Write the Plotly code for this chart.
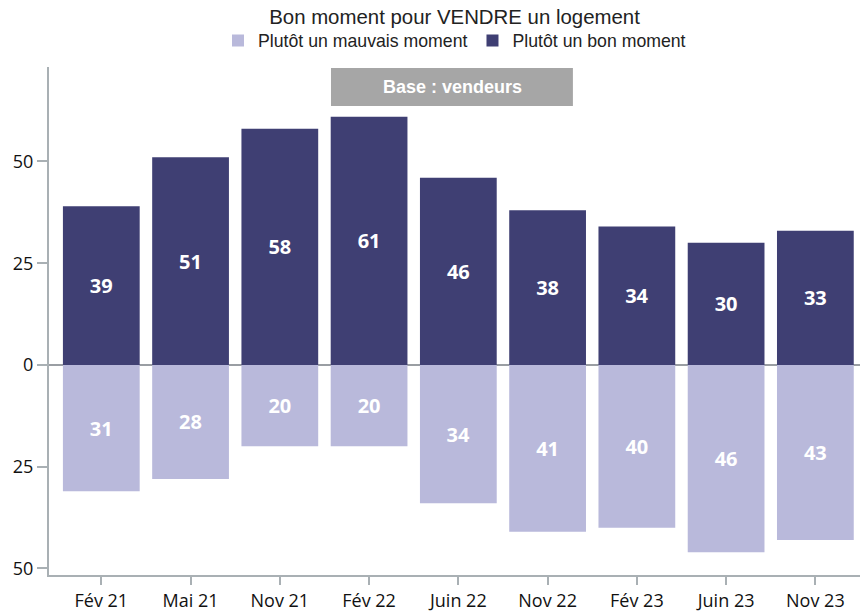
import plotly.graph_objects as go

categories = ["Fév 21", "Mai 21", "Nov 21", "Fév 22", "Juin 22", "Nov 22", "Fév 23", "Juin 23", "Nov 23"]
bon_moment = [39, 51, 58, 61, 46, 38, 34, 30, 33]
mauvais_moment = [31, 28, 20, 20, 34, 41, 40, 46, 43]
y_tickvals = [-50, -25, 0, 25, 50]
y_ticktext = ["50", "25", "0", "25", "50"]

DARK = "#3f3f73"
LIGHT = "#b9b9db"
AXIS = "#a9b0b4"
LABEL_FONT = dict(family="Open Sans, Noto Sans, sans-serif", size=20, color="white", weight="bold")

fig = go.Figure()
fig.add_trace(go.Bar(
    x=categories, y=[-v for v in mauvais_moment], name="Plutôt un mauvais moment",
    marker=dict(color=LIGHT, line=dict(width=0)),
    text=[str(v) for v in mauvais_moment], textposition="inside",
    insidetextanchor="middle", textfont=LABEL_FONT, textangle=0,
    hoverinfo="skip",
))
fig.add_trace(go.Bar(
    x=categories, y=bon_moment, name="Plutôt un bon moment",
    marker=dict(color=DARK, line=dict(width=0)),
    text=[str(v) for v in bon_moment], textposition="inside",
    insidetextanchor="middle", textfont=LABEL_FONT, textangle=0,
    hoverinfo="skip",
))

fig.update_layout(
    width=860, height=611,
    barmode="relative",
    bargap=0.14,
    plot_bgcolor="white", paper_bgcolor="white",
    margin=dict(l=49, r=0, t=67, b=36, autoexpand=False),
    title=dict(text="Bon moment pour VENDRE un logement", x=0.5, xref="paper",
               xanchor="center", y=1 - 17 / 611, yref="container", yanchor="middle",
               automargin=False,
               font=dict(family="Liberation Sans, Arial, sans-serif", size=20.4, color="#222")),
    legend=dict(orientation="h", x=0.5, xanchor="center", xref="paper",
                y=(575 - 41) / 508, yref="paper", yanchor="middle",
                font=dict(family="Liberation Sans, Arial, sans-serif", size=17.7, color="#222"),
                itemwidth=30, tracegroupgap=0, bgcolor="rgba(0,0,0,0)"),
    showlegend=True,
    uniformtext=dict(mode=False),
)

fig.update_xaxes(
    range=[-0.586, 8.5], showgrid=False, showline=True, linecolor=AXIS, linewidth=2,
    ticks="outside", ticklen=8, tickcolor=AXIS, tickwidth=2, automargin=False,
    tickfont=dict(family="Open Sans, Noto Sans, sans-serif", size=18, color="#111"),
    zeroline=False,
)
fig.update_yaxes(
    range=[-51.6, 73.2], showgrid=False, showline=True, linecolor=AXIS, linewidth=2,
    ticks="outside", ticklen=10, tickcolor=AXIS, tickwidth=2, automargin=False,
    tickvals=y_tickvals, ticktext=y_ticktext,
    tickfont=dict(family="Open Sans, Noto Sans, sans-serif", size=18, color="#111"),
    zeroline=True, zerolinecolor="#9a9ea3", zerolinewidth=2,
)

fig.add_shape(type="rect", xref="paper", yref="paper",
              x0=0.3477, x1=0.646, y0=0.923, y1=0.998,
              fillcolor="#a6a6a6", line=dict(width=0), layer="above")
fig.add_annotation(text="<b>Base : vendeurs</b>", xref="paper", yref="paper",
                   x=0.497, y=0.961, xanchor="center", yanchor="middle", showarrow=False,
                   font=dict(family="Liberation Sans, Arial, sans-serif", size=18, color="white"))

fig.write_html("out.html", config={"displayModeBar": False},
               post_script="document.body.style.margin='0px';document.body.style.padding='0px';")
